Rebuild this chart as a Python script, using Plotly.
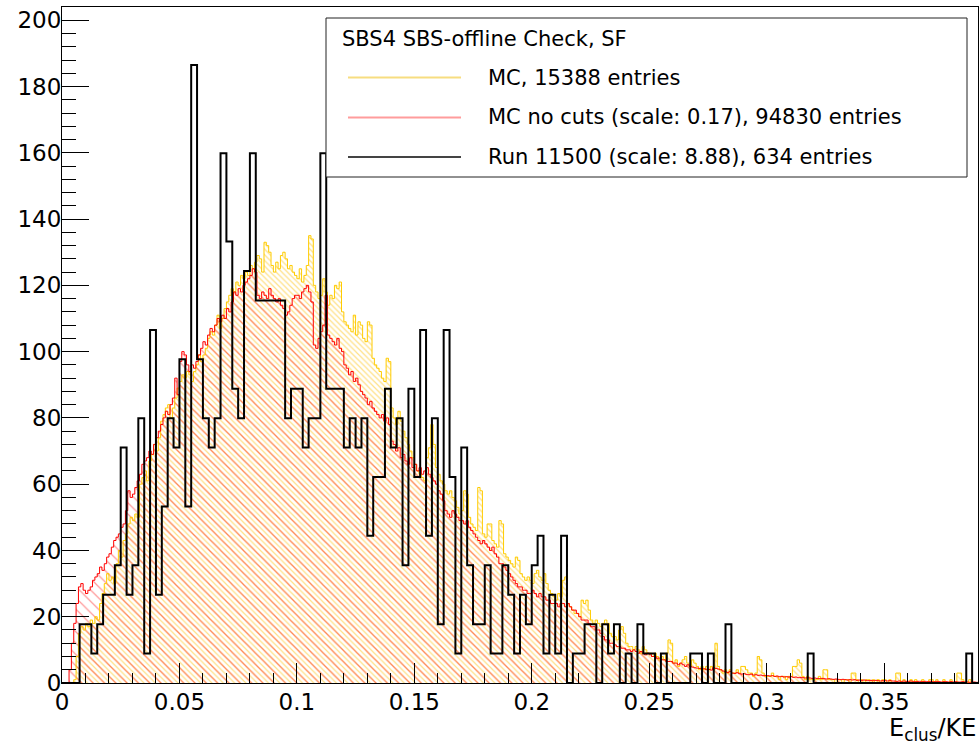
import numpy as np
import plotly.graph_objects as go

# ---------------- data ----------------
x_range = [0.0, 0.39]
y_range = [0.0, 204.0]
data_bin_width = 0.0025
mc_bin_width = 0.001
data_scale = 8.88

# Run 11500: raw counts per 0.0025 bin (drawn scaled by 8.88)
data_counts = [
    0, 0, 0, 2, 2, 1, 2, 3, 3, 4,
    8, 3, 4, 9, 1, 12, 3, 6, 9, 8,
    11, 6, 21, 11, 9, 8, 9, 18, 15, 10,
    9, 14, 18, 13, 13, 13, 13, 13, 9, 10,
    10, 8, 9, 9, 18, 10, 10, 10, 8, 9,
    8, 9, 5, 7, 7, 10, 8, 9, 4, 10,
    7, 12, 5, 9, 2, 12, 7, 1, 8, 4,
    2, 2, 4, 1, 1, 4, 3, 1, 3, 2,
    4, 5, 1, 3, 1, 5, 0, 1, 1, 2,
    2, 0, 2, 1, 2, 0, 1, 0, 2, 1,
    1, 0, 1, 0, 0, 0, 0, 1, 1, 0,
    1, 0, 0, 2, 0, 0, 0, 0, 0, 0,
    0, 0, 0, 0, 0, 0, 0, 1, 0, 0,
    0, 0, 0, 0, 0, 0, 0, 0, 0, 0,
    0, 0, 0, 0, 0, 0, 0, 0, 0, 0,
    0, 0, 0, 0, 1, 0,
]

# MC (with cuts), counts per 0.001 bin
mc_cut = [
    0, 0, 0, 0, 0, 1, 8, 15, 17, 16,
    18, 17, 19, 18, 20, 19, 24, 27, 30, 33,
    31, 32, 30, 36, 40, 38, 43, 45, 48, 50,
    49, 51, 50, 60, 62, 64, 61, 67, 69, 72,
    70, 74, 79, 81, 83, 84, 80, 83, 86, 89,
    91, 93, 92, 94, 93, 91, 94, 96, 99, 97,
    99, 101, 104, 106, 105, 108, 111, 107, 110, 113,
    115, 117, 119, 118, 121, 120, 123, 122, 124, 123,
    126, 125, 127, 129, 128, 124, 133, 132, 130, 126,
    124, 127, 125, 129, 130, 128, 125, 126, 124, 123,
    122, 125, 121, 123, 126, 135, 134, 120, 118, 116,
    117, 122, 118, 114, 117, 116, 120, 119, 121, 112,
    109, 108, 107, 106, 111, 105, 109, 108, 104, 103,
    109, 108, 98, 96, 95, 94, 92, 91, 98, 97,
    83, 80, 78, 82, 79, 76, 74, 72, 70, 68,
    66, 64, 63, 62, 61, 68, 71, 78, 72, 65,
    63, 61, 60, 58, 57, 58, 56, 55, 53, 51,
    52, 58, 57, 50, 48, 47, 46, 59, 58, 45,
    44, 48, 48, 43, 42, 41, 49, 48, 39, 38,
    37, 36, 35, 38, 37, 33, 32, 31, 32, 31,
    30, 33, 34, 32, 31, 33, 30, 28, 27, 26,
    25, 27, 26, 31, 32, 24, 23, 22, 21, 21,
    20, 25, 24, 25, 22, 19, 18, 19, 18, 17,
    18, 19, 18, 15, 14, 14, 13, 16, 17, 15,
    12, 11, 11, 10, 11, 10, 9, 11, 10, 9,
    9, 8, 9, 8, 7, 8, 7, 9, 13, 12,
    6, 7, 5, 6, 7, 8, 6, 5, 7, 6,
    5, 4, 5, 4, 5, 4, 5, 4, 12, 5,
    4, 3, 4, 3, 4, 3, 3, 4, 3, 5,
    5, 4, 3, 3, 2, 3, 8, 7, 3, 2,
    2, 2, 3, 2, 2, 1, 2, 2, 1, 2,
    2, 5, 5, 7, 6, 2, 1, 2, 1, 1,
    1, 1, 2, 1, 4, 4, 1, 1, 1, 0,
    1, 1, 0, 1, 1, 0, 3, 3, 1, 0,
    1, 0, 1, 1, 0, 1, 0, 1, 0, 1,
    1, 0, 1, 0, 0, 3, 3, 0, 1, 0,
    0, 1, 0, 1, 0, 0, 1, 0, 0, 1,
    1, 0, 1, 0, 0, 1, 0, 0, 1, 0,
    0, 3, 3, 1, 0, 0, 1, 0, 0, 0,
]

# MC no cuts, already scaled by 0.17, per 0.001 bin
mc_nocut = [
    0, 0, 0, 4, 12, 18, 24, 29, 30, 28,
    27, 28, 29, 31, 32, 33, 35, 34, 36, 38,
    39, 41, 43, 44, 45, 47, 48, 52, 58, 56,
    57, 59, 61, 63, 66, 67, 68, 70, 69, 72,
    74, 76, 78, 80, 82, 81, 84, 86, 92, 87,
    97, 100, 99, 96, 94, 96, 95, 97, 99, 101,
    103, 102, 105, 107, 106, 108, 110, 109, 111, 110,
    113, 112, 115, 118, 117, 119, 118, 120, 121, 122,
    123, 125, 124, 117, 116, 118, 117, 116, 119, 117,
    116, 115, 116, 114, 113, 111, 112, 114, 116, 117,
    117, 116, 118, 119, 120, 118, 115, 102, 101, 104,
    106, 108, 117, 105, 104, 103, 102, 104, 101, 100,
    96, 95, 93, 94, 91, 92, 90, 88, 87, 86,
    84, 85, 83, 82, 81, 80, 81, 79, 80, 78,
    73, 72, 70, 71, 68, 69, 67, 66, 68, 65,
    66, 64, 65, 63, 64, 65, 63, 62, 61, 60,
    58, 57, 55, 52, 51, 50, 52, 51, 50, 49,
    49, 48, 49, 47, 46, 45, 44, 43, 42, 43,
    42, 41, 40, 41, 39, 38, 36, 36, 35, 34,
    33, 32, 31, 30, 29, 29, 28, 28, 27, 27,
    28, 27, 26, 27, 26, 26, 25, 25, 24, 24,
    24, 23, 24, 24, 23, 24, 23, 22, 22, 21,
    20, 19, 19, 19, 18, 17, 17, 16, 16, 15,
    14, 13, 13, 12, 12, 11.5, 11, 11, 10.5, 10.5,
    10, 10, 9.5, 10, 9.5, 9, 9.5, 9, 8.5, 9,
    8.5, 8, 8, 7.5, 7.5, 7, 7, 6.5, 6.5, 6.5,
    6, 6, 5.5, 6, 5.5, 5, 5.5, 5, 4.8, 4.6,
    4.5, 4.4, 4.2, 4.3, 4, 4.1, 3.9, 4.6, 4.4, 4.2,
    4, 3.6, 3.4, 3.2, 3.5, 3, 2.9, 3.1, 2.8, 2.7,
    2.8, 2.6, 2.5, 2.7, 2.4, 2.5, 2.3, 2.4, 2.2, 2.3,
    2.2, 2.1, 2.2, 2.0, 2.1, 1.9, 2.0, 1.8, 1.9, 1.8,
    1.9, 1.7, 1.8, 1.6, 1.7, 1.6, 1.5, 1.6, 1.5, 1.4,
    1.5, 1.4, 1.3, 1.4, 1.3, 1.2, 1.3, 1.2, 1.1, 1.2,
    1.1, 1.0, 1.1, 1.0, 0.9, 1.0, 0.9, 1.0, 0.8, 0.9,
    0.8, 0.9, 0.8, 0.7, 0.8, 0.7, 0.8, 0.7, 0.6, 0.7,
    0.7, 0.6, 0.7, 0.6, 0.6, 0.5, 0.6, 0.5, 0.6, 0.5,
    0.5, 0.6, 0.5, 0.4, 0.5, 0.5, 0.4, 0.5, 0.4, 0.5,
    0.4, 0.4, 0.5, 0.4, 0.3, 0.4, 0.4, 0.3, 0.4, 0.3,
    0.4, 0.3, 0.3, 0.4, 0.3, 0.3, 0.2, 0.3, 0.3, 0.2,
]

legend_title = "SBS4 SBS-offline Check, SF"
legend_labels = [
    "MC, 15388 entries",
    "MC no cuts (scale: 0.17), 94830 entries",
    "Run 11500 (scale: 8.88), 634 entries",
]
x_title = "E<sub>clus</sub>/KE"

assert len(data_counts) == 156, len(data_counts)
assert len(mc_cut) == 390, len(mc_cut)
assert len(mc_nocut) == 390, len(mc_nocut)

# ---------------- styling ----------------
YELLOW = "#FFCC00"
YELLOW_HATCH = "#FFC20E"
RED = "#FF0000"
RED_HATCH = "#FF2E2E"
FONT = "DejaVu Sans"

data_vals = np.array(data_counts, dtype=float) * data_scale
mc_cut = np.array(mc_cut, dtype=float)
mc_nocut = np.array(mc_nocut, dtype=float)


def centers(n, w):
    return (np.arange(n) + 0.5) * w


def step(vals, w):
    edges = np.arange(len(vals) + 1) * w
    y = np.append(vals, vals[-1])
    return edges, y


fig = go.Figure()

# hatched fills
fig.add_trace(go.Bar(
    x=centers(len(mc_cut), mc_bin_width), y=mc_cut, width=mc_bin_width,
    marker=dict(color="rgba(0,0,0,0)", line=dict(width=0),
                pattern=dict(shape="\\", fgcolor=YELLOW_HATCH, bgcolor="rgba(0,0,0,0)",
                             size=4, solidity=0.3, fillmode="overlay")),
    hoverinfo="skip"))
xs, ys = step(mc_cut, mc_bin_width)
fig.add_trace(go.Scatter(x=xs, y=ys, mode="lines", line=dict(color=YELLOW, width=1, shape="hv"),
                         hoverinfo="skip"))

fig.add_trace(go.Bar(
    x=centers(len(mc_nocut), mc_bin_width), y=mc_nocut, width=mc_bin_width,
    marker=dict(color="rgba(0,0,0,0)", line=dict(width=0),
                pattern=dict(shape="\\", fgcolor=RED_HATCH, bgcolor="rgba(0,0,0,0)",
                             size=8, solidity=0.15, fillmode="overlay")),
    hoverinfo="skip"))
xs, ys = step(mc_nocut, mc_bin_width)
fig.add_trace(go.Scatter(x=xs, y=ys, mode="lines", line=dict(color=RED, width=1, shape="hv"),
                         hoverinfo="skip"))

xs, ys = step(data_vals, data_bin_width)
fig.add_trace(go.Scatter(x=xs, y=ys, mode="lines", line=dict(color="black", width=2, shape="hv"),
                         hoverinfo="skip"))

L, R, T, B = 62, 2, 7, 63
W, H = 980, 746
PW, PH = W - L - R, H - T - B


def px2x(px):
    return (px - L) / PW


def py2y(py):
    return (H - B - py) / PH


shapes = [
    dict(type="rect", xref="paper", yref="paper", x0=px2x(326), x1=px2x(967),
         y0=py2y(177), y1=py2y(18), line=dict(color="#222222", width=1), fillcolor="white",
         layer="above"),
]
legend_colors = ["#F7DD80", "#FF9C9C", "#444444"]
legend_y = [77.5, 117.5, 157]
annotations = [
    dict(xref="paper", yref="paper", x=px2x(340), y=py2y(39), text=legend_title,
         showarrow=False, xanchor="left", yanchor="middle",
         font=dict(family=FONT, size=21, color="black")),
]
for c, yy, lab in zip(legend_colors, legend_y, legend_labels):
    shapes.append(dict(type="line", xref="paper", yref="paper", x0=px2x(348), x1=px2x(461),
                       y0=py2y(yy), y1=py2y(yy), line=dict(color=c, width=2), layer="above"))
    annotations.append(dict(xref="paper", yref="paper", x=px2x(486), y=py2y(yy), text=lab,
                            showarrow=False, xanchor="left", yanchor="middle",
                            font=dict(family=FONT, size=21, color="black")))

annotations.append(dict(xref="paper", yref="paper", x=px2x(978), y=py2y(747), text=x_title,
                        showarrow=False, xanchor="right", yanchor="bottom",
                        font=dict(family=FONT, size=24, color="black")))

fig.update_layout(
    width=W, height=H,
    margin=dict(l=L, r=R, t=T, b=B, pad=0),
    paper_bgcolor="white", plot_bgcolor="white",
    showlegend=False, barmode="overlay", bargap=0,
    shapes=shapes, annotations=annotations,
    xaxis=dict(range=x_range, showgrid=False, zeroline=False, showline=True, mirror=True,
               linecolor="black", linewidth=1, ticks="inside", ticklen=20, tickwidth=1,
               tickcolor="black", tick0=0, dtick=0.05,
               minor=dict(ticks="inside", ticklen=10, dtick=0.01, tickcolor="black", tickwidth=1,
                          showgrid=False),
               tickfont=dict(family=FONT, size=23, color="black"), ticklabelstandoff=-2,
               automargin=False),
    yaxis=dict(range=y_range, showgrid=False, zeroline=False, showline=True, mirror=True,
               linecolor="black", linewidth=1, ticks="inside", ticklen=27, tickwidth=1,
               tickcolor="black", tick0=0, dtick=20,
               minor=dict(ticks="inside", ticklen=14, dtick=4, tickcolor="black", tickwidth=1,
                          showgrid=False),
               tickfont=dict(family=FONT, size=23, color="black"), ticklabelstandoff=-5,
               automargin=False),
)

fig.write_html("out.html")
